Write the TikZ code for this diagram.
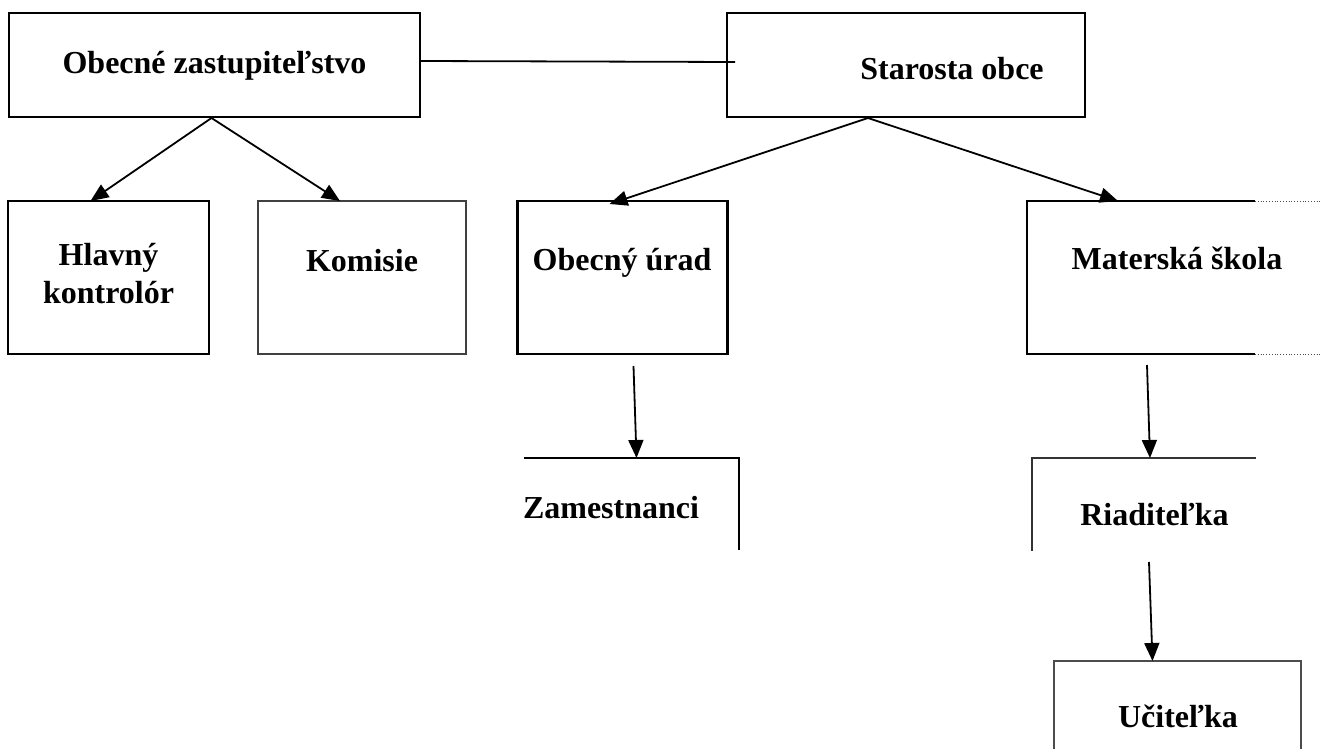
\documentclass[tikz,border=0pt]{standalone}
\usepackage{fontspec}
\setmainfont{Liberation Serif}
\usetikzlibrary{arrows.meta,calc}
\begin{document}
\begin{tikzpicture}[x=1pt,y=-1pt,
  box/.style={draw=black,line width=2.2pt,minimum width=#1,inner sep=0pt,outer sep=0pt},
  thinbox/.style={draw=black!75,line width=1.2pt,inner sep=0pt,outer sep=0pt},
  frame/.style={inner sep=0pt,outer sep=0pt},
  lbl/.style={font=\fontsize{32}{38}\selectfont\bfseries,inner sep=0pt,anchor=base,align=center},
  conn/.style={line width=1.8pt,-{Triangle[length=18pt,width=15pt]}},
  plain/.style={line width=1.8pt}]
\useasboundingbox (0,0) rectangle (1320,749);
% boxes
\node[box=411pt,minimum height=104pt] (zast) at (214.5,65) {};
\node[box=358pt,minimum height=104pt] (star) at (906,65) {};
\node[box=201pt,minimum height=153pt] (hk) at (108.5,277.5) {};
\node[thinbox,minimum width=208pt,minimum height=153pt] (kom) at (362,277.5) {};
\node[box=210pt,minimum height=153pt] (ou) at (622.5,277.5) {};
\node[frame,minimum width=293pt,minimum height=153pt] (ms) at (1173.5,277.5) {};
\node[frame,minimum width=215pt,minimum height=92pt] (zam) at (631.5,504) {};
\node[frame,minimum width=224pt,minimum height=93pt] (ria) at (1144,504.5) {};
\node[frame,minimum width=247pt,minimum height=88pt] (uc) at (1177.5,705) {};
% partial frames
\draw[line width=2.2pt] (ms.north east) ++(-65,0) coordinate (msa) -- (ms.north west) -- (ms.south west) -- ++(228,0) coordinate (msb);
\draw[line width=0.8pt,dotted,black!70] (msa) -- (ms.north east);
\draw[line width=0.8pt,dotted,black!70] (msb) -- (ms.south east);
\draw[line width=2.2pt] (zam.north west) -- (zam.north east) -- (zam.south east);
\draw[line width=1.2pt,black!80] (ria.north east) -- (ria.north west) -- (ria.south west);
\draw[line width=1.2pt,black!70] (uc.south west) -- (uc.north west) -- (uc.north east) -- (uc.south east);
% labels
\node[lbl] (zastT) at (214.5,74) {Obecné zastupiteľstvo};
\node[lbl] (starT) at (952,80) {Starosta obce};
\node[lbl,anchor=north] (hkT) at (108.5,243) {Hlavný\\kontrolór};
\node[lbl] (komT) at (362,271) {Komisie};
\node[lbl] (ouT) at (622,270) {Obecný úrad};
\node[lbl] (msT) at (1177,269) {Materská škola};
\node[lbl] (zamT) at (611,518) {Zamestnanci};
\node[lbl] (riaT) at (1154.5,525) {Riaditeľka};
\node[lbl] (ucT) at (1178,727) {Učiteľka};
% connectors
\draw[plain] ($(zast.east)+(0,-4)$) -- ($(star.west)+(8,-3)$);
\draw[conn] ($(zast.south)+(-3,1)$) -- ($(hk.north)+(-18,0)$);
\draw[conn] ($(zast.south)+(-3,1)$) -- ($(kom.north)+(-22,0)$);
\draw[conn] ($(star.south)+(-38,1)$) -- ($(ou.north)+(-13,3)$);
\draw[conn] ($(star.south)+(-38,1)$) -- ($(ms.north west)+(91,0)$);
\draw[conn] ($(ou.south)+(11,12)$) -- ($(zam.north)+(5,0)$);
\draw[conn] ($(ms.south west)+(120,11)$) -- ($(ria.north)+(6,0)$);
\draw[conn] ($(ria.south)+(5,11)$) -- ($(uc.north)+(-25,0)$);
\end{tikzpicture}
\end{document}
